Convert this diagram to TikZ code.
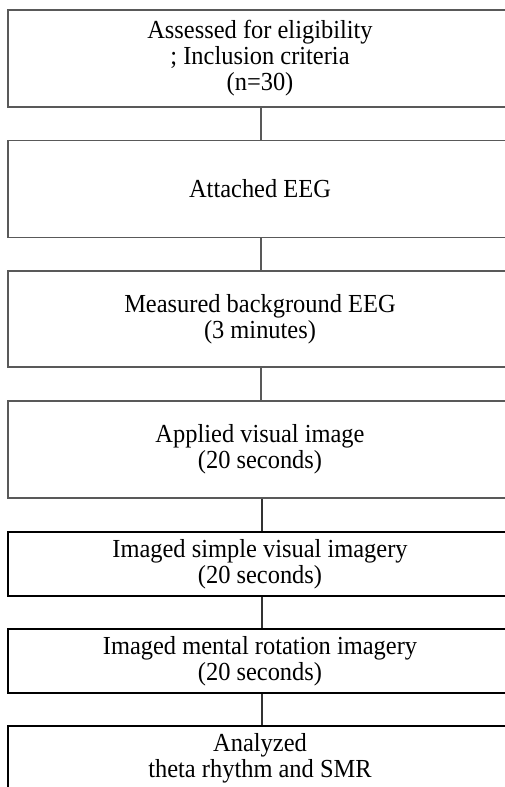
\documentclass[tikz,border=0pt]{standalone}
\usepackage{fontspec}
\setmainfont{Liberation Serif}[FakeStretch=0.94]
\begin{document}
\begin{tikzpicture}[x=1pt,y=-1pt,
  boxA/.style={draw=black!65, line width=1.3pt, rectangle, minimum width=504pt, align=center, inner sep=0pt,
    font=\fontsize{26}{26}\selectfont},
  boxB/.style={boxA, draw=black, line width=2pt},
  linkA/.style={draw=black!65, line width=1.2pt},
  linkB/.style={draw=black!80, line width=1.3pt}]
\useasboundingbox (0,0) rectangle (504,787);
\node[boxA, minimum height=97pt] (b1) at (260,58.5) {Assessed for eligibility\\; Inclusion criteria\\(n=30)};
\node[boxA, minimum height=97pt] (b2) at (260,189) {Attached EEG};
\node[boxA, minimum height=96pt] (b3) at (260,319) {Measured background EEG\\(3 minutes)};
\node[boxA, minimum height=97pt] (b4) at (260,449.5) {Applied visual image\\(20 seconds)};
\node[boxB, minimum height=64pt] (b5) at (260,564) {Imaged simple visual imagery\\(20 seconds)};
\node[boxB, minimum height=64pt] (b6) at (260,661) {Imaged mental rotation imagery\\(20 seconds)};
\node[boxB, minimum height=64pt] (b7) at (260,758) {Analyzed\\theta rhythm and SMR};
\draw[linkA] (b1.south -| 261,0) -- (b2.north -| 261,0);
\draw[linkA] (b2.south -| 261,0) -- (b3.north -| 261,0);
\draw[linkA] (b3.south -| 261,0) -- (b4.north -| 261,0);
\draw[linkB] (b4.south -| 262,0) -- (b5.north -| 262,0);
\draw[linkB] (b5.south -| 262,0) -- (b6.north -| 262,0);
\draw[linkB] (b6.south -| 262,0) -- (b7.north -| 262,0);
\end{tikzpicture}
\end{document}
